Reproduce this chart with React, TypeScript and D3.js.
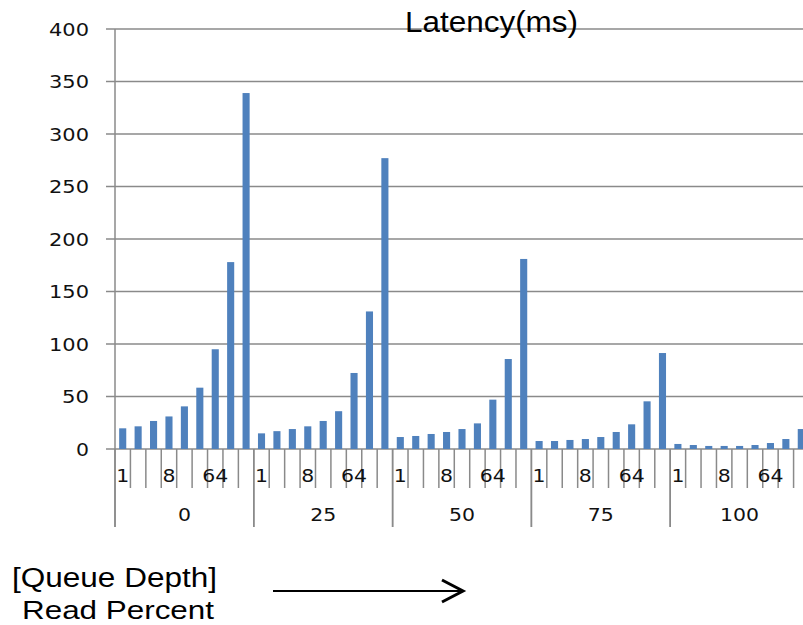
import React from "react";
import * as d3 from "d3";

const readPercents = ["0", "25", "50", "75", "100"];
const queueDepths = ["1", "2", "4", "8", "16", "32", "64", "128", "256"];
const shownDepthLabels = ["1", "8", "64"];
const latency0 = [19.7, 21.6, 26.7, 31, 40.6, 58.4, 95, 178, 339];
const latency25 = [14.9, 17, 19, 21.6, 26.7, 36, 72.4, 131, 277];
const latency50 = [11.4, 12.4, 14.3, 16.2, 19, 24.4, 47, 85.7, 181];
const latency75 = [7.6, 7.6, 8.6, 9.5, 11.4, 16.2, 23.5, 45.4, 91.4];
const latency100 = [4.8, 3.8, 2.9, 2.9, 2.9, 3.8, 5.7, 9.5, 19];
const yTicks = [0, 50, 100, 150, 200, 250, 300, 350, 400];

const seriesByGroup = [latency0, latency25, latency50, latency75, latency100];

export default function App() {
  const W = 803, H = 625;
  const left = 115, right = 809, top = 29, bottom = 449;
  const groupScale = d3.scaleBand<string>().domain(readPercents).range([left, right]).padding(0);
  const catScale = d3.scaleBand<string>().domain(queueDepths).range([0, groupScale.bandwidth()]).paddingInner(0.54).paddingOuter(0.27);
  const y = d3.scaleLinear().domain([0, 400]).range([bottom, top]);
  const grid = "#8a8a8a";
  const step = catScale.step();

  return (
    <svg width={W} height={H} style={{ position: "absolute", left: 0, top: 0, background: "#fff" }}>
      {yTicks.map((t) => (
        <g key={t}>
          <line x1={106} x2={W} y1={y(t)} y2={y(t)} stroke={grid} strokeWidth={1.5} />
          <text x={89} y={y(t) + 6.5} textAnchor="end" fontFamily="DejaVu Sans" fontSize={18} fill="#111"
            textLength={t >= 100 ? 40 : t >= 10 ? 27 : 13} lengthAdjust="spacingAndGlyphs">{t}</text>
        </g>
      ))}
      <line x1={left} x2={left} y1={top} y2={527} stroke={grid} strokeWidth={1.5} />
      {readPercents.map((g, gi) => {
        const gx = groupScale(g)!;
        return (
          <g key={g}>
            {queueDepths.map((q, qi) => (
              <line key={q} x1={gx + qi * step} x2={gx + qi * step} y1={bottom} y2={qi === 0 ? 527 : 488} stroke={grid} strokeWidth={1.5} />
            ))}
            <line x1={gx + groupScale.bandwidth()} x2={gx + groupScale.bandwidth()} y1={bottom} y2={527} stroke={grid} strokeWidth={1.5} />
            {seriesByGroup[gi].map((v, qi) => {
              const bx = gx + catScale(queueDepths[qi])!;
              return <rect key={qi} x={bx} y={y(v)} width={catScale.bandwidth()} height={bottom - y(v)} fill="#4F81BD" />;
            })}
            {queueDepths.map((q, qi) =>
              shownDepthLabels.includes(q) ? (
                <text key={"l" + q} x={gx + (qi + 0.5) * step} y={482} textAnchor="middle" fontFamily="DejaVu Sans" fontSize={18.5} fill="#111"
                  textLength={q.length * 13} lengthAdjust="spacingAndGlyphs">{q}</text>
              ) : null
            )}
            <text x={gx + groupScale.bandwidth() / 2} y={521} textAnchor="middle" fontFamily="DejaVu Sans" fontSize={18.5} fill="#111"
              textLength={g.length * 13} lengthAdjust="spacingAndGlyphs">{g}</text>
          </g>
        );
      })}
      <text x={405} y={32} fontFamily="Liberation Sans, Arial" fontSize={29} fill="#000" textLength={173} lengthAdjust="spacingAndGlyphs">Latency(ms)</text>
      <text x={12} y={587} fontFamily="Liberation Sans, Arial" fontSize={27} fill="#000" textLength={205} lengthAdjust="spacingAndGlyphs">[Queue Depth]</text>
      <text x={22} y={619} fontFamily="Liberation Sans, Arial" fontSize={26} fill="#000" textLength={192} lengthAdjust="spacingAndGlyphs">Read Percent</text>
      <line x1={273} x2={462} y1={591} y2={591} stroke="#000" strokeWidth={2} />
      <polyline points="442,580 463,591 442,602" fill="none" stroke="#000" strokeWidth={3} strokeLinejoin="miter" />
    </svg>
  );
}
